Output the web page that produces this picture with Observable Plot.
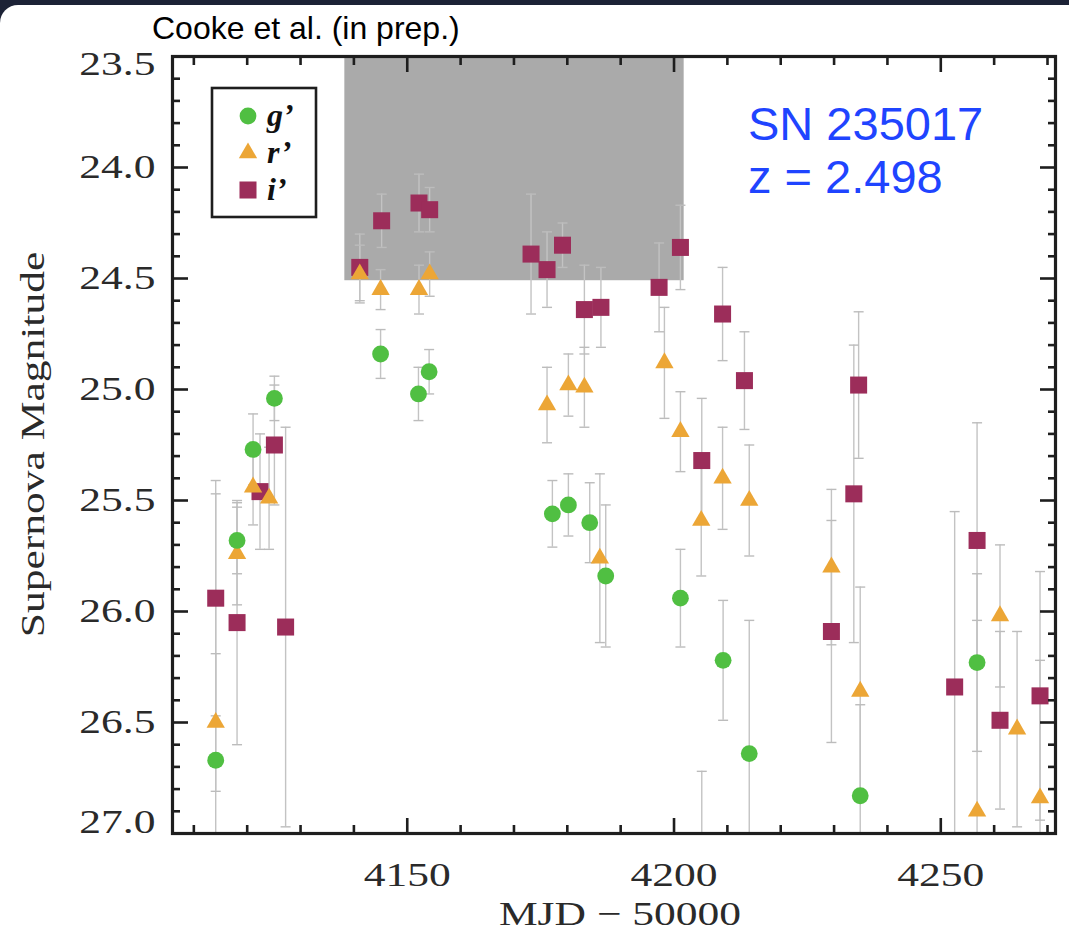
<!DOCTYPE html>
<html>
<head>
<meta charset="utf-8">
<script src="https://cdn.jsdelivr.net/npm/d3@7"></script>
<script src="https://cdn.jsdelivr.net/npm/@observablehq/plot@0.6"></script>
<style>
  html, body { margin: 0; padding: 0; background: #1c2236; }
  #card { position: absolute; left: 0; top: 5px; width: 1069px; height: 938px; background: #fff; border-top-left-radius: 18px; }
  #chart { position: absolute; left: 0; top: 0; }
  #credit { position: absolute; left: 152px; top: 10px; font: 32px "Liberation Sans", Arial, sans-serif; color: #000; white-space: nowrap; }
</style>
</head>
<body>
<div id="card"></div>
<div id="chart"></div>
<div id="credit">Cooke et al. (in prep.)</div>
<script>
// Light curve of SN 235017 (z = 2.498): g', r', i' magnitudes with 1-sigma errors.
const gMJD = [4114.1, 4118.1, 4121.1, 4125.1, 4145.0, 4152.1, 4154.1, 4177.2, 4180.2, 4184.2, 4187.2, 4201.2, 4205.2, 4209.2, 4214.1, 4234.9, 4256.8];
const gMag = [26.67, 25.68, 25.27, 25.04, 24.84, 25.02, 24.92, 25.56, 25.52, 25.60, 25.84, 25.94, 27.20, 26.22, 26.64, 26.83, 26.23];
const gErr = [1.20, 0.15, 0.16, 0.10, 0.11, 0.12, 0.10, 0.15, 0.14, 0.18, 0.32, 0.22, 0.48, 0.27, 0.60, 0.41, 0.40];

const rMJD = [4114.1, 4118.1, 4121.1, 4124.1, 4141.1, 4145.0, 4152.2, 4154.2, 4176.2, 4180.2, 4183.2, 4186.1, 4198.2, 4201.2, 4205.1, 4209.1, 4214.1, 4229.5, 4234.9, 4256.8, 4261.1, 4264.3, 4268.6];
const rMag = [26.50, 25.74, 25.44, 25.49, 24.48, 24.55, 24.55, 24.48, 25.07, 24.98, 24.99, 25.76, 24.88, 25.19, 25.59, 25.40, 25.50, 25.80, 26.36, 26.90, 26.02, 26.53, 26.84];
const rErr = [0.31, 0.23, 0.17, 0.23, 0.13, 0.09, 0.11, 0.10, 0.17, 0.14, 0.18, 0.38, 0.25, 0.18, 0.25, 0.23, 0.25, 0.35, 0.47, 0.86, 0.32, 0.44, 0.62];

const iMJD = [4114.1, 4118.1, 4122.4, 4125.1, 4127.2, 4141.1, 4145.2, 4152.2, 4154.2, 4173.2, 4176.2, 4179.1, 4183.2, 4186.3, 4197.2, 4201.2, 4205.2, 4209.1, 4213.2, 4229.5, 4233.7, 4234.6, 4252.6, 4256.8, 4261.1, 4268.6];
const iMag = [25.94, 26.05, 25.46, 25.25, 26.07, 24.45, 24.24, 24.16, 24.19, 24.39, 24.46, 24.35, 24.64, 24.63, 24.54, 24.36, 25.32, 24.66, 24.96, 26.09, 25.47, 24.98, 26.34, 25.68, 26.49, 26.38];
const iErr = [0.53, 0.55, 0.26, 0.27, 0.90, 0.15, 0.12, 0.13, 0.10, 0.27, 0.17, 0.10, 0.20, 0.18, 0.20, 0.19, 0.28, 0.21, 0.22, 0.50, 0.67, 0.33, 0.79, 0.53, 0.40, 0.56];

// shaded epoch window
const shadeMJD = [4138.3, 4201.9];
const shadeMag = [23.5, 24.51];

const xDomain = [4106, 4271.5];
const yDomain = [23.5, 27.0];
const xMajor = [4150, 4200, 4250];
const xMinor = [4110, 4120, 4130, 4140, 4160, 4170, 4180, 4190, 4210, 4220, 4230, 4240, 4260, 4270];
const yMajor = [23.5, 24.0, 24.5, 25.0, 25.5, 26.0, 26.5, 27.0];
const yMinor = d3.range(236, 270).map(v => v / 10).filter(v => !yMajor.includes(v));

const bands = [
  {key: "i", label: "i", color: "#9c2d5a", symbol: "square", r: 9.6},
  {key: "r", label: "r", color: "#eca636", symbol: "triangle", r: 6.8},
  {key: "g", label: "g", color: "#50bf42", symbol: "circle", r: 8.4}
];

const rowsOf = (band, mjd, mag, err) => mjd.map((t, k) => ({band, mjd: t, mag: mag[k], err: err[k]}));
const series = {
  g: rowsOf("g", gMJD, gMag, gErr),
  r: rowsOf("r", rMJD, rMag, rErr),
  i: rowsOf("i", iMJD, iMag, iErr)
};
const allRows = [...series.i, ...series.r, ...series.g];

// flat horizontal cap for the error bars
const cap = {draw(context) { context.moveTo(-5, 0); context.lineTo(5, 0); }};

const ink = "#1e1e1e";
const serif = "'Liberation Serif', 'Times New Roman', serif";
const stretch = " scale(1.28,1)";

const tickAxes = [];
for (const anchor of ["bottom", "top"]) {
  tickAxes.push(Plot.axisX(xMajor, {anchor, tickSize: -15, text: null, label: null, stroke: ink, strokeWidth: 2.6}));
  tickAxes.push(Plot.axisX(xMinor, {anchor, tickSize: -8, text: null, label: null, stroke: ink, strokeWidth: 2.6}));
}
for (const anchor of ["left", "right"]) {
  tickAxes.push(Plot.axisY(yMajor, {anchor, tickSize: -16, text: null, label: null, stroke: ink, strokeWidth: 2.6}));
  tickAxes.push(Plot.axisY(yMinor, {anchor, tickSize: -8, text: null, label: null, stroke: ink, strokeWidth: 2.6}));
}

const labelStyle = {fontFamily: serif, fontSize: 34, fill: "#2a2a2a", label: null, tickSize: 0};

const plot = Plot.plot({
  width: 1069,
  height: 943,
  marginLeft: 172,
  marginRight: 14,
  marginTop: 56,
  marginBottom: 110,
  style: {background: "transparent", overflow: "visible"},
  x: {domain: xDomain},
  y: {domain: yDomain, reverse: true},
  marks: [
    Plot.rect([{x1: shadeMJD[0], x2: shadeMJD[1], y1: shadeMag[0], y2: shadeMag[1]}],
      {x1: "x1", x2: "x2", y1: "y1", y2: "y2", fill: "#aaaaaa"}),
    Plot.ruleX(allRows, {x: "mjd", y1: d => d.mag - d.err, y2: d => d.mag + d.err, stroke: "#c3c3c3", strokeWidth: 1.4, clip: true}),
    Plot.dot(allRows, {x: "mjd", y: d => d.mag - d.err, symbol: cap, fill: "none", stroke: "#bcbcbc", strokeWidth: 1.4, clip: true}),
    Plot.dot(allRows, {x: "mjd", y: d => d.mag + d.err, symbol: cap, fill: "none", stroke: "#bcbcbc", strokeWidth: 1.4, clip: true}),
    ...bands.map(b => Plot.dot(series[b.key], {x: "mjd", y: "mag", symbol: b.symbol, r: b.r, fill: b.color, clip: true})),
    ...tickAxes,
    Plot.axisX(xMajor, {...labelStyle, anchor: "bottom", tickPadding: 28, tickFormat: d3.format("d")}),
    Plot.axisY(yMajor.slice(1, -1), {...labelStyle, anchor: "left", tickPadding: 17, tickFormat: d3.format(".1f")}),
    Plot.axisY(yMajor.slice(0, 1), {...labelStyle, anchor: "left", tickPadding: 17, dy: 8, tickFormat: d3.format(".1f")}),
    Plot.axisY(yMajor.slice(-1), {...labelStyle, anchor: "left", tickPadding: 17, dy: -11, tickFormat: d3.format(".1f")}),
    Plot.frame({stroke: ink, strokeWidth: 3.2})
  ]
});

const svg = d3.select(plot);

// widen the serif tick labels
svg.selectAll('g[aria-label="x-axis tick label"] text, g[aria-label="y-axis tick label"] text')
  .attr("transform", function() { return (this.getAttribute("transform") || "") + stretch; });

// axis titles
svg.append("text")
  .attr("transform", "translate(44,444.5) rotate(-90)" + stretch)
  .attr("text-anchor", "middle")
  .style("font-family", serif).style("font-size", "34px").attr("fill", "#2a2a2a")
  .text("Supernova Magnitude");
svg.append("text")
  .attr("transform", "translate(620,925)" + stretch)
  .attr("text-anchor", "middle")
  .style("font-family", serif).style("font-size", "34px").attr("fill", "#2a2a2a")
  .text("MJD \u2212 50000");

// object name and redshift
const tag = svg.append("g").attr("text-anchor", "start")
  .style("font-family", "'Liberation Sans', Arial, sans-serif").style("font-size", "47px").attr("fill", "#1f44ff");
tag.append("text").attr("x", 748).attr("y", 140).text("SN 235017");
tag.append("text").attr("x", 748).attr("y", 193).text("z = 2.498");

// legend
const legend = svg.append("g").attr("transform", "translate(212,88)").attr("text-anchor", "start");
legend.append("rect").attr("width", 104).attr("height", 129).attr("fill", "#fff").attr("stroke", ink).attr("stroke-width", 2.6);
const symbolType = {circle: d3.symbolCircle, triangle: d3.symbolTriangle, square: d3.symbolSquare};
[bands[2], bands[1], bands[0]].forEach((b, k) => {
  const cy = 28 + k * 37;
  legend.append("path")
    .attr("transform", `translate(36,${cy})`)
    .attr("d", d3.symbol(symbolType[b.symbol], Math.PI * b.r * b.r)())
    .attr("fill", b.color);
  legend.append("text")
    .attr("x", 55).attr("y", cy + 10)
    .style("font-family", serif).style("font-size", "32px").style("font-weight", "bold").style("font-style", "italic")
    .attr("fill", "#111")
    .text(b.label + "\u2019");
});

document.getElementById("chart").append(plot);
</script>
</body>
</html>
